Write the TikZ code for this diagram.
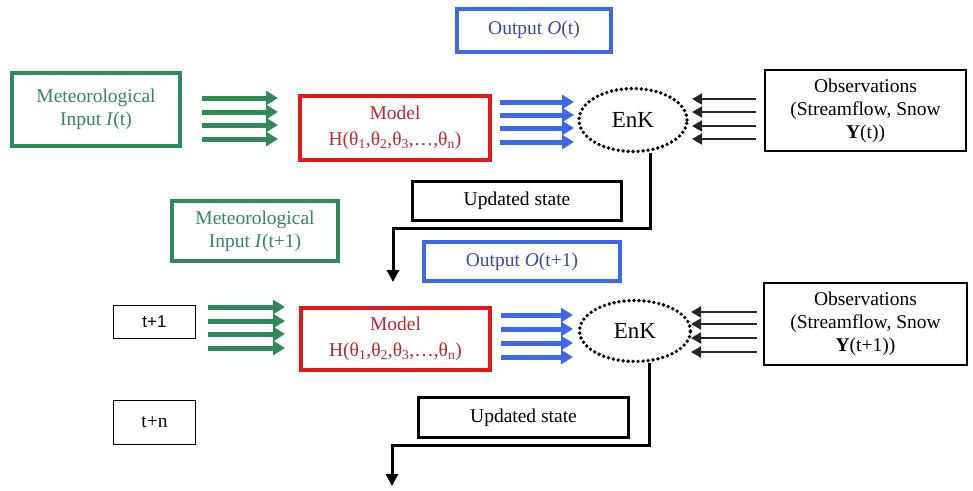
\documentclass[tikz,border=0pt]{standalone}
\usepackage{fontspec}
\setmainfont{Liberation Serif}
\newfontfamily\arialf{Liberation Sans}
\usetikzlibrary{arrows.meta,shapes.geometric}
\definecolor{mgreen}{RGB}{46,139,87}
\definecolor{mred}{RGB}{225,25,25}
\definecolor{mblue}{RGB}{60,105,235}
\definecolor{tgreen}{RGB}{50,135,90}
\definecolor{tred}{RGB}{190,40,40}
\definecolor{tblue}{RGB}{55,75,165}
\begin{document}
\begin{tikzpicture}[x=1pt,y=-1pt,
  every node/.style={font=\fontsize{19.5}{23}\selectfont, align=center, inner sep=0pt},
  gbox/.style={draw=mgreen, line width=4pt, text=tgreen, rectangle},
  rbox/.style={draw=mred, line width=4pt, text=tred, rectangle},
  bbox/.style={draw=mblue, line width=4pt, text=tblue, rectangle},
  kbox/.style={draw=black, line width=1.6pt, text=black, rectangle},
  ubox/.style={draw=black, line width=3pt, text=black, rectangle},
  enkf/.style={ellipse, draw=black, line width=3.8pt, line cap=round, dash pattern=on 0pt off 5pt, font=\fontsize{23}{26}\selectfont},
  garr/.style={draw=mgreen, line width=5pt, -{Triangle[length=12pt,width=14pt]}},
  barr/.style={draw=mblue, line width=5pt, -{Triangle[length=12pt,width=14pt]}},
  karr/.style={draw=black!85, line width=2pt, -{Triangle[length=10pt,width=11pt]}},
  flow/.style={draw=black, line width=3pt, -{Triangle[length=12pt,width=12pt]}}
]
\useasboundingbox (0,0) rectangle (973,490);

% ---- row 1 ----
\node[bbox, minimum width=154pt, minimum height=43pt] (out1) at (534,30) {Output \textit{O}(t)};
\node[gbox, minimum width=168pt, minimum height=73pt] (met1) at (96,109.5) {Meteorological\\Input \textit{I}(t)};
\node[rbox, minimum width=190pt, minimum height=64pt] (model1) at (395,128) {Model\\[3pt]H(θ\textsubscript{1},θ\textsubscript{2},θ\textsubscript{3},…,θ\textsubscript{n})};
\node[enkf, minimum width=108pt, minimum height=63pt] (enk1) at (633,120) {EnK};
\node[kbox, minimum width=201pt, minimum height=81pt] (obs1) at (865.5,110.5) {Observations\\(Streamflow, Snow\\\textbf{Y}(t))};
\node[ubox, minimum width=209pt, minimum height=39pt] (upd1) at (517,201) {Updated state};

\foreach \y in {98,112,125,139} \draw[garr] (202,\y) -- (278,\y);
\foreach \y in {102,115,128,142} \draw[barr] (500,\y) -- (574,\y);
\foreach \y in {99,112,126,139} \draw[karr] (756,\y) -- (692,\y);

\coordinate (c1) at (650,228);
\coordinate (e1) at (393,282);
\draw[flow] (enk1.south -| c1) -- (c1) -| (e1);

% ---- row 2 ----
\node[gbox, minimum width=166pt, minimum height=60pt] (met2) at (255,231) {Meteorological\\Input \textit{I}(t+1)};
\node[bbox, minimum width=196pt, minimum height=39pt] (out2) at (522,261.5) {Output \textit{O}(t+1)};
\node[kbox, minimum width=82pt, minimum height=33pt, font=\arialf\fontsize{17}{20}\selectfont] (t1) at (154.5,322) {t+1};
\node[rbox, minimum width=189pt, minimum height=62pt] (model2) at (395.5,339) {Model\\[3pt]H(θ\textsubscript{1},θ\textsubscript{2},θ\textsubscript{3},…,θ\textsubscript{n})};
\node[enkf, minimum width=111pt, minimum height=61pt] (enk2) at (635,331) {EnK};
\node[kbox, minimum width=203pt, minimum height=82pt] (obs2) at (865.5,324) {Observations\\(Streamflow, Snow\\\textbf{Y}(t+1))};
\node[kbox, minimum width=82pt, minimum height=44pt] (tn) at (154.5,422.5) {t+n};
\node[ubox, minimum width=210pt, minimum height=40pt] (upd2) at (523.5,417.5) {Updated state};

\foreach \y in {307,321,334,348} \draw[garr] (208,\y) -- (285,\y);
\foreach \y in {315,329,343,357} \draw[barr] (501,\y) -- (573,\y);
\foreach \y in {312,324,338,352} \draw[karr] (757,\y) -- (691,\y);

\coordinate (c2) at (649,445);
\coordinate (e2) at (392,486);
\draw[flow] (enk2.south -| c2) -- (c2) -| (e2);
\end{tikzpicture}
\end{document}
